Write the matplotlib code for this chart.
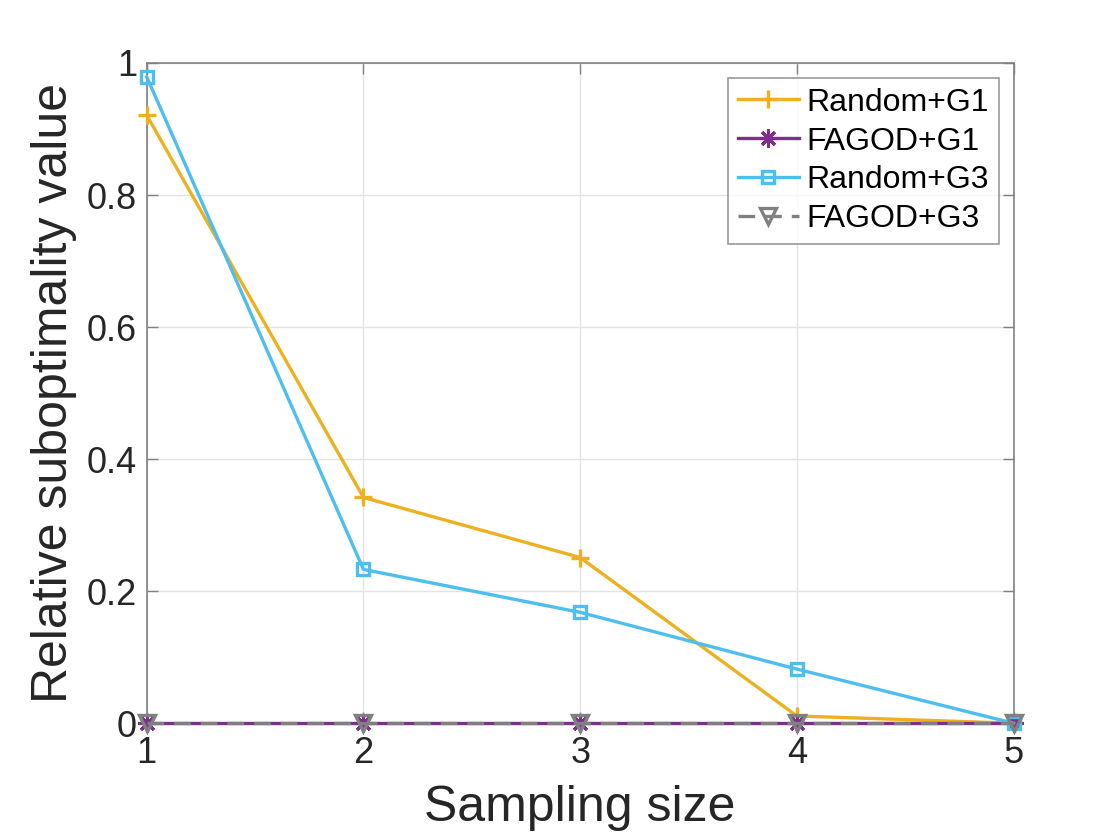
import matplotlib
matplotlib.use("Agg")
import matplotlib.pyplot as plt

plt.rcParams['font.family'] = ['Liberation Sans', 'DejaVu Sans']

# sampling sizes
sizes = [1, 2, 3, 4, 5]

# relative suboptimality per method
random_g1 = [0.921, 0.342, 0.251, 0.011, 0.0]
fagod_g1 = [0.0, 0.0, 0.0, 0.0, 0.0]
random_g3 = [0.979, 0.233, 0.168, 0.082, 0.0]
fagod_g3 = [0.0, 0.0, 0.0, 0.0, 0.0]

fig = plt.figure(figsize=(11.2, 8.4), dpi=100)
ax = fig.add_axes([0.131, 0.139, 0.774, 0.786])

ax.plot(sizes, random_g1, color='#EDB120', lw=2.4, marker='+', ms=13, mew=2.4,
        label='Random+G1', clip_on=False, zorder=3)
ax.plot(sizes, fagod_g1, color='#7E2F8E', lw=2.4, marker=(8, 2, 0), ms=13, mew=2.2,
        label='FAGOD+G1', clip_on=False, zorder=3)
ax.plot(sizes, random_g3, color='#4DBEEE', lw=2.4, marker='s', ms=9, mew=2.4, mfc='none',
        label='Random+G3', clip_on=False, zorder=3)
ax.plot(sizes, fagod_g3, color='#808080', lw=2.4, ls=(0, (5, 3)), marker='v', ms=11, mew=2.4,
        mfc='none', label='FAGOD+G3', clip_on=False, zorder=4)

ax.set_xlim(1, 5)
ax.set_ylim(0, 1)
ax.set_xticks(sizes)
ax.set_yticks([0, 0.2, 0.4, 0.6, 0.8, 1])
ax.set_yticklabels(['0', '0.2', '0.4', '0.6', '0.8', '1'])
ax.grid(True, color='#e3e3e3', lw=1)
ax.set_axisbelow(True)
for s in ax.spines.values():
    s.set_color('#808080')
    s.set_linewidth(1.2)
ax.tick_params(direction='in', length=8, width=1, colors='#808080', labelcolor='#262626',
               labelsize=26, top=True, right=True)
ax.tick_params(axis='x', pad=9)
ax.tick_params(axis='y', pad=7)

ax.set_xlabel('Sampling size', fontsize=36, color='#262626', labelpad=10)
ax.set_ylabel('Relative suboptimality value', fontsize=36, color='#262626', labelpad=7)

leg = ax.legend(loc='upper right', fontsize=23, frameon=True, fancybox=False,
                edgecolor='#808080', handlelength=1.9, handletextpad=0.25,
                borderpad=0.3, labelspacing=0.28, borderaxespad=0.47)
leg.get_frame().set_linewidth(1.2)

fig.savefig('out.png', dpi=100)
